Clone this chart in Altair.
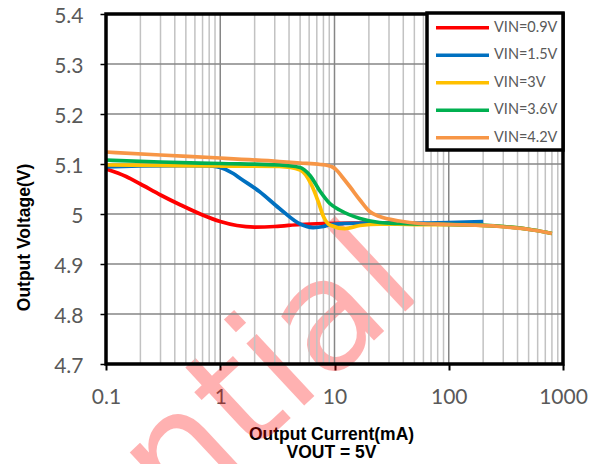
import altair as alt
import pandas as pd

series_names = ["VIN=0.9V", "VIN=1.5V", "VIN=3V", "VIN=3.6V", "VIN=4.2V"]
series_colors = ["#FF0000", "#0070C0", "#FFC000", "#00B050", "#F79646"]

red_i = [0.1, 0.15, 0.2, 0.3, 0.45, 0.7, 1.0, 1.4, 2.0, 3.0, 5.0, 8.0, 15, 30, 50]
red_v = [5.090, 5.075, 5.060, 5.038, 5.018, 4.998, 4.985, 4.977, 4.974, 4.975, 4.979, 4.981, 4.982, 4.982, 4.982]

blue_i = [0.1, 0.2, 0.5, 0.8, 1.0, 1.3, 1.5, 2.2, 3.3, 5.0, 6.5, 8.0, 9.2, 12, 20, 50, 100, 200]
blue_v = [5.094, 5.096, 5.097, 5.096, 5.093, 5.081, 5.071, 5.045, 5.011, 4.980, 4.973, 4.975, 4.979, 4.981, 4.982, 4.982, 4.983, 4.985]

yellow_i = [0.1, 0.3, 1.0, 2.0, 3.3, 5.0, 6.3, 7.2, 8.0, 9.1, 12.3, 16.7, 25, 50, 100, 300, 550, 800]
yellow_v = [5.098, 5.097, 5.096, 5.096, 5.095, 5.088, 5.058, 5.025, 4.995, 4.978, 4.971, 4.977, 4.980, 4.979, 4.979, 4.975, 4.968, 4.961]

green_i = [0.1, 0.3, 1.0, 3.3, 5.0, 6.1, 7.5, 9.1, 11.1, 16.7, 24.8, 37, 60, 100, 300, 550, 800]
green_v = [5.108, 5.104, 5.101, 5.098, 5.093, 5.077, 5.045, 5.021, 5.008, 4.991, 4.983, 4.981, 4.980, 4.979, 4.975, 4.968, 4.961]

orange_i = [0.1, 0.3, 1.0, 3.3, 5.0, 7.5, 8.7, 9.6, 10.5, 11.5, 13.6, 16.7, 20.3, 24.8, 37, 56, 100, 280, 540, 800]
orange_v = [5.124, 5.118, 5.112, 5.105, 5.102, 5.099, 5.097, 5.094, 5.087, 5.076, 5.055, 5.028, 5.005, 4.995, 4.986, 4.981, 4.979, 4.975, 4.968, 4.961]

x_ticks = [0.1, 1, 10, 100, 1000]
y_ticks = [4.7, 4.8, 4.9, 5.0, 5.1, 5.2, 5.3, 5.4]
x_minor = [m * d for d in [0.1, 1, 10, 100] for m in [2, 3, 4, 5, 6, 7, 8, 9]]
x_major = [1, 10, 100]
y_grid = [4.8, 4.9, 5.0, 5.1, 5.2, 5.3]

watermark_text = "Confidential"

all_series = [
    (red_i, red_v), (blue_i, blue_v), (yellow_i, yellow_v),
    (green_i, green_v), (orange_i, orange_v),
]

xs = alt.Scale(type="log", domain=[0.1, 1000], nice=False)
ys = alt.Scale(domain=[4.7, 5.4], nice=False, zero=False)

xaxis = alt.Axis(
    values=x_ticks, format="~g", title=["Output Current(mA)", "VOUT = 5V"],
    grid=False, domain=False, tickColor="black", tickWidth=2, tickSize=6,
    labelFont="Lato", labelFontSize=21, labelColor="#595959",
    labelPadding=33, labelBaseline="alphabetic", labelFlush=False, labelOverlap=False,
    titleFont="Liberation Sans", titleFontSize=17.5, titleFontWeight="bold",
    titleColor="black", titleY=75, titleBaseline="alphabetic", titleLineHeight=18.5,
    titleX=225,
)
yaxis = alt.Axis(
    values=y_ticks, format="~g", title="Output  Voltage(V)",
    grid=False, domain=False, tickColor="black", tickWidth=1.5, tickSize=6,
    labelFont="Lato", labelFontSize=21, labelColor="#595959",
    labelPadding=17, labelFlush=False, labelOverlap=False, labelOffset=2,
    titleFont="Liberation Sans", titleFontSize=17.5, titleFontWeight="bold",
    titleColor="black", titleX=-77, titleY=223, titleAngle=270,
    titleBaseline="alphabetic", titleAlign="center",
)

watermark = alt.Chart(pd.DataFrame({"t": [watermark_text]})).mark_text(
    angle=317, fontSize=155, font="DejaVu Sans", color="red", opacity=0.3,
    align="right", baseline="alphabetic",
).encode(x=alt.value(320), y=alt.value(278), text="t:N")

minor = alt.Chart(pd.DataFrame({"v": x_minor})).mark_rule(
    color="#c2c2c2", strokeWidth=1.5
).encode(x=alt.X("v:Q", scale=xs, axis=xaxis))

major = alt.Chart(pd.DataFrame({"v": x_major})).mark_rule(
    color="#868686", strokeWidth=1.5
).encode(x=alt.X("v:Q", scale=xs, axis=xaxis))

hgrid = alt.Chart(pd.DataFrame({"v": y_grid})).mark_rule(
    color="#868686", strokeWidth=1.5
).encode(y=alt.Y("v:Q", scale=ys, axis=yaxis))

lines = []
for (xi, vi), col in zip(all_series, series_colors):
    df = pd.DataFrame({"I": xi, "V": vi})
    lines.append(
        alt.Chart(df).mark_line(strokeWidth=3.75, interpolate="monotone", color=col).encode(
            x=alt.X("I:Q", scale=xs, axis=xaxis),
            y=alt.Y("V:Q", scale=ys, axis=yaxis),
        )
    )

inner = alt.layer(watermark, minor, major, hgrid, *lines)

frame = alt.Chart(pd.DataFrame({"a": [0]})).mark_rect(
    fillOpacity=0, stroke="black", strokeWidth=3.5
).encode(x=alt.value(0), x2=alt.value(457), y=alt.value(0), y2=alt.value(350))

box = alt.Chart(pd.DataFrame({"a": [0]})).mark_rect(
    fill="white", stroke="black", strokeWidth=3.5
).encode(x=alt.value(321), x2=alt.value(457), y=alt.value(-1), y2=alt.value(136))

leg_df = pd.DataFrame({"series": series_names})
ly = alt.Y("series:N", scale=alt.Scale(type="point", domain=series_names, range=[13.7, 123.7], padding=0), axis=None)
lc = alt.Color("series:N", scale=alt.Scale(domain=series_names, range=series_colors), legend=None)

leg_rules = alt.Chart(leg_df).mark_rule(strokeWidth=3.5).encode(
    x=alt.value(330), x2=alt.value(383), y=ly, color=lc
)
leg_text = alt.Chart(leg_df).mark_text(
    align="left", baseline="middle", font="Lato", fontSize=14.5, color="#595959"
).encode(x=alt.value(388), y=ly, text="series:N")

chart = alt.layer(inner, frame, box, leg_rules, leg_text).resolve_scale(
    y="independent"
).properties(
    width=457, height=350,
    autosize=alt.AutoSizeParams(type="none"),
    padding={"left": 98, "top": 6, "right": 27, "bottom": 100},
    background="white",
).configure_view(strokeWidth=0)

chart.save("out.html", embed_options={"renderer": "svg", "actions": False})
